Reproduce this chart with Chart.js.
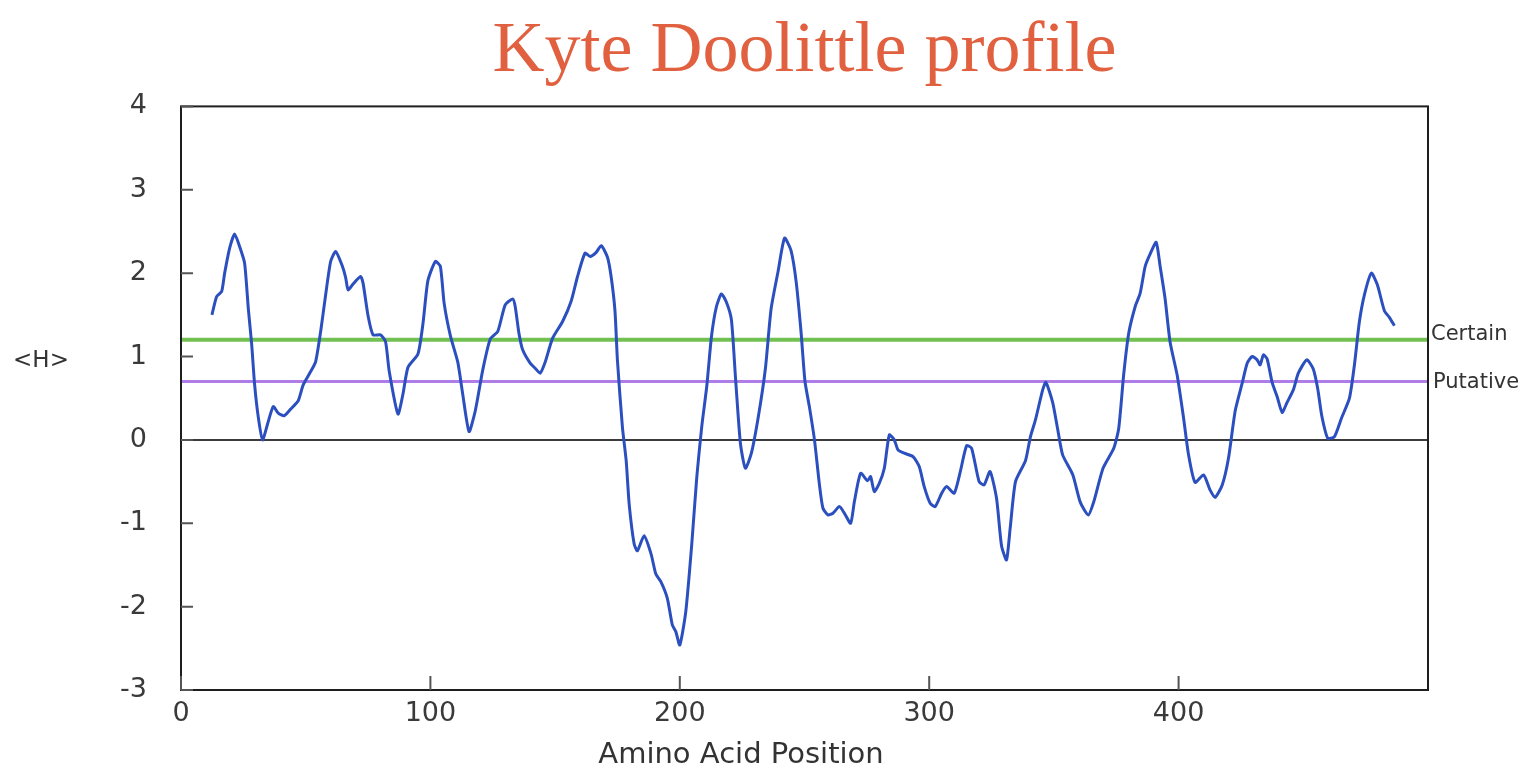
<!DOCTYPE html>
<html>
<head>
<meta charset="utf-8">
<script src="https://cdn.jsdelivr.net/npm/chart.js@4.4.1/dist/chart.umd.min.js"></script>
<style>
  html, body { margin: 0; padding: 0; background: #fff; }
  #wrap { width: 1536px; height: 774px; }
</style>
</head>
<body>
<div id="wrap"><canvas id="kdChart" width="1536" height="774"></canvas></div>
<script>
// residue position / window-averaged hydropathy
const positions = [
  12.4, 14.3, 16.3, 17.5, 19.5, 21.5, 23.5, 25.5, 27, 28.3, 29.5, 31, 32.7, 34.7, 37, 39, 41.4, 44, 47, 49,
  52, 54, 56, 58, 60, 62, 64.5, 66, 67, 69, 72, 73, 75, 77, 80, 82, 83.5, 87, 89, 91,
  95, 97, 99, 102, 104, 105.5, 108, 111, 113, 115.5, 118, 121, 124, 127, 130, 133, 134, 135.5, 137, 140,
  142, 144, 146, 149, 153, 156.5, 159, 162, 164, 166.5, 168.5, 171, 172.5, 174, 175, 177, 178.5, 179.7, 181.7, 183,
  185.7, 188.5, 190.4, 192.4, 195, 197, 198.4, 200, 202.4, 204.8, 206.8, 208.8, 210.8, 212.7, 214.7, 216.7, 218.7, 220.7, 222.3, 224.3,
  226.3, 228.7, 231.5, 234.3, 236.6, 239.4, 242, 244.6, 246.6, 248.6, 250.2, 252, 254, 256, 257.4, 259.4, 261.4, 264, 266, 268.5,
  270, 272.5, 275.3, 276.5, 278, 280, 282, 284, 286, 287.5, 290, 293.5, 296, 298, 300.4, 302.4, 305, 307, 310, 312.4,
  315, 317, 320, 322, 324.4, 327, 329, 331, 332.5, 334.6, 338.6, 340.6, 342.6, 345.5, 346.8, 349.5, 351.5, 353.5, 357.6, 360.6,
  363.8, 366, 369.7, 374, 376, 378, 380, 382.6, 384.6, 386.6, 388.6, 391, 392.6, 394.6, 396.6, 399.4, 402, 404, 406.6, 410,
  412.6, 414.6, 417.5, 420, 422.7, 425.5, 427.5, 429.5, 431.5, 432.7, 434, 435.5, 437.5, 439.5, 441.5, 443.5, 446, 448, 451.4, 454,
  455.8, 457.4, 459.8, 462.5, 465.3, 468.5, 470.5, 472.5, 474.5, 477.3, 479.7, 482.5, 484.5, 486.5
];
const hydropathy = [
  1.50, 1.72, 1.78, 2.00, 2.30, 2.47, 2.32, 2.12, 1.57, 1.16, 0.67, 0.27, 0.00, 0.19, 0.40, 0.32, 0.29, 0.37, 0.47, 0.66,
  0.82, 0.94, 1.30, 1.74, 2.14, 2.26, 2.10, 1.95, 1.80, 1.87, 1.96, 1.88, 1.49, 1.26, 1.26, 1.18, 0.82, 0.31, 0.55, 0.87,
  1.03, 1.39, 1.91, 2.14, 2.08, 1.64, 1.25, 0.93, 0.54, 0.10, 0.35, 0.84, 1.21, 1.30, 1.62, 1.69, 1.60, 1.28, 1.08, 0.92,
  0.86, 0.80, 0.93, 1.22, 1.42, 1.67, 1.96, 2.24, 2.20, 2.25, 2.33, 2.19, 1.95, 1.55, 0.95, 0.15, -0.25, -0.77, -1.25, -1.33,
  -1.15, -1.37, -1.61, -1.70, -1.90, -2.22, -2.30, -2.46, -2.06, -1.25, -0.45, 0.16, 0.64, 1.24, 1.60, 1.75, 1.65, 1.44, 0.76, -0.04,
  -0.34, -0.16, 0.28, 0.85, 1.57, 2.02, 2.42, 2.27, 1.91, 1.30, 0.70, 0.39, 0.00, -0.54, -0.82, -0.90, -0.88, -0.80, -0.88, -1.00,
  -0.74, -0.40, -0.49, -0.44, -0.62, -0.52, -0.34, 0.06, 0.00, -0.12, -0.16, -0.20, -0.32, -0.56, -0.76, -0.80, -0.64, -0.56, -0.64, -0.39,
  -0.07, -0.10, -0.50, -0.54, -0.38, -0.70, -1.27, -1.44, -1.05, -0.50, -0.25, 0.04, 0.24, 0.60, 0.69, 0.45, 0.13, -0.18, -0.42, -0.75,
  -0.90, -0.74, -0.34, -0.10, 0.14, 0.79, 1.28, 1.60, 1.76, 2.08, 2.23, 2.37, 2.08, 1.69, 1.17, 0.78, 0.26, -0.18, -0.51, -0.42,
  -0.60, -0.69, -0.54, -0.22, 0.35, 0.68, 0.92, 1.00, 0.96, 0.90, 1.02, 0.97, 0.69, 0.52, 0.33, 0.45, 0.60, 0.80, 0.96, 0.85,
  0.61, 0.29, 0.02, 0.04, 0.26, 0.50, 0.90, 1.42, 1.74, 2.00, 1.86, 1.55, 1.47, 1.37
];

// threshold levels
const certainLevel = 1.2;
const putativeLevel = 0.7;

const xTicks = [0, 100, 200, 300, 400];
const yTicks = [-3, -2, -1, 0, 1, 2, 3, 4];
const xRange = [0, 500];
const yRange = [-3, 4];

const profile = positions.map((p, i) => ({ x: p, y: hydropathy[i] }));
const levelLine = v => xRange.map(x => ({ x: x, y: v }));

// frame, inward tick marks and the loose labels
const frameAndLabels = {
  id: 'frameAndLabels',
  afterDatasetsDraw(chart) {
    const { ctx, chartArea: a, scales: { x, y } } = chart;
    ctx.save();
    ctx.strokeStyle = '#1e1e1e';
    ctx.lineWidth = 2;
    ctx.strokeRect(a.left, a.top, a.right - a.left, a.bottom - a.top);

    ctx.strokeStyle = '#555';
    ctx.beginPath();
    yTicks.forEach(v => {
      const py = y.getPixelForValue(v);
      ctx.moveTo(a.left, py);
      ctx.lineTo(a.left + 12, py);
    });
    xTicks.forEach(v => {
      const px = x.getPixelForValue(v);
      ctx.moveTo(px, a.bottom);
      ctx.lineTo(px, a.bottom - 14);
    });
    ctx.stroke();

    ctx.fillStyle = '#333';
    ctx.textBaseline = 'middle';
    ctx.textAlign = 'left';
    ctx.font = '21px "DejaVu Sans"';
    ctx.fillText('Certain', a.right + 3, y.getPixelForValue(certainLevel) - 5);
    ctx.fillText('Putative', a.right + 5, y.getPixelForValue(putativeLevel) + 1);

    ctx.textAlign = 'center';
    ctx.font = '23px "DejaVu Sans"';
    ctx.fillText('<H>', 41, y.getPixelForValue(0.95));
    ctx.font = '29px "DejaVu Sans"';
    ctx.fillText('Amino Acid Position', 741, 755);
    ctx.restore();
  }
};

const ctx = document.getElementById('kdChart').getContext('2d');
const kdChart = new Chart(ctx, {
  type: 'line',
  data: {
    datasets: [
      {
        label: 'Hydropathy',
        data: profile,
        borderColor: '#2b4fbf',
        borderWidth: 3,
        pointRadius: 0,
        tension: 0.2,
        fill: false
      },
      {
        label: 'Certain',
        data: levelLine(certainLevel),
        borderColor: '#72c052',
        borderWidth: 4,
        pointRadius: 0,
        fill: false
      },
      {
        label: 'Putative',
        data: levelLine(putativeLevel),
        borderColor: '#b07de8',
        borderWidth: 3,
        pointRadius: 0,
        fill: false
      }
    ]
  },
  plugins: [frameAndLabels],
  options: {
    responsive: false,
    animation: false,
    devicePixelRatio: 1,
    layout: { padding: { left: 0, right: 108, top: 0, bottom: 0 } },
    plugins: {
      legend: { display: false },
      tooltip: { enabled: false },
      title: {
        display: true,
        fullSize: false,
        text: 'Kyte Doolittle profile',
        color: '#e0603f',
        font: { family: '"Liberation Serif"', size: 72, weight: 'normal' },
        padding: { top: 9, bottom: 11 }
      }
    },
    scales: {
      x: {
        type: 'linear',
        min: xRange[0],
        max: xRange[1],
        afterBuildTicks: s => { s.ticks = xTicks.map(v => ({ value: v })); },
        afterFit: s => { s.height = 84; },
        grid: { display: false, drawTicks: false },
        border: { display: false },
        ticks: {
          color: '#3a3a3a',
          padding: 8,
          maxRotation: 0,
          font: { family: '"DejaVu Sans"', size: 27 }
        }
      },
      y: {
        min: yRange[0],
        max: yRange[1],
        afterBuildTicks: s => { s.ticks = yTicks.map(v => ({ value: v })); },
        afterFit: s => { s.width = 181; },
        grid: {
          drawTicks: false,
          color: c => (c.tick && c.tick.value === 0 ? '#3c3c3c' : 'rgba(0,0,0,0)'),
          lineWidth: 2
        },
        border: { display: false },
        ticks: {
          color: '#3a3a3a',
          padding: 34,
          font: { family: '"DejaVu Sans"', size: 27 }
        }
      }
    }
  }
});
</script>
</body>
</html>
